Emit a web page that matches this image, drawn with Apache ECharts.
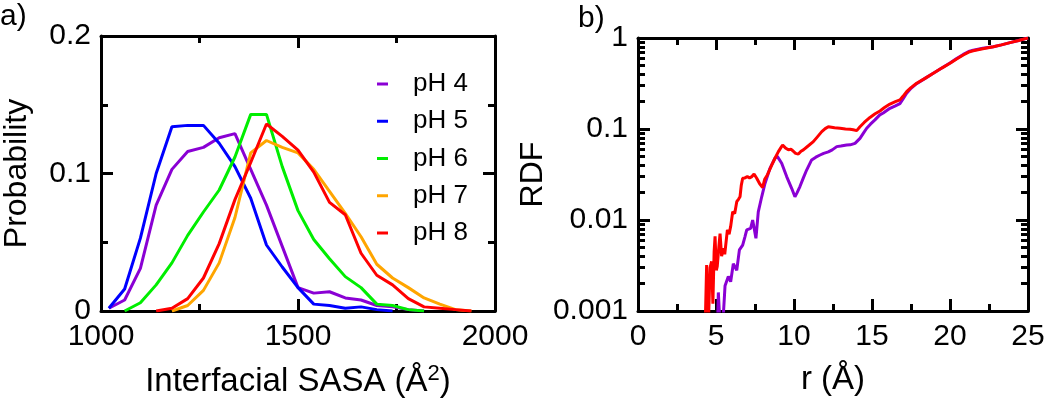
<!DOCTYPE html>
<html>
<head>
<meta charset="utf-8">
<script src="https://cdn.jsdelivr.net/npm/echarts@6/dist/echarts.min.js"></script>
<style>
html,body{margin:0;padding:0;background:#fff;}
#chart{width:1050px;height:404px;}
</style>
</head>
<body>
<div id="chart"></div>
<script>
// ---------- Panel a) : probability of interfacial SASA ----------
const sasaBins = [1020,1060,1100,1140,1180,1220,1260,1300,1340,1380,1420,1460,1500,1540,1580,1620,1660,1700,1740,1780,1820,1860,1900,1940];
const probPH4 = [0.002,0.008,0.031,0.077,0.103,0.116,0.119,0.126,0.129,0.103,0.077,0.047,0.017,0.013,0.014,0.0095,0.008,0.004,0.003,0.001,0.000,null,null,null];
const probPH5 = [0.002,0.016,0.053,0.100,0.134,0.135,0.135,0.122,0.105,0.082,0.048,0.032,0.017,0.005,0.004,0.002,0.003,0.001,0.000,null,null,null,null,null];
const probPH6 = [null,0.000,0.006,0.019,0.035,0.055,0.072,0.088,0.112,0.143,0.143,0.105,0.073,0.052,0.038,0.025,0.017,0.005,0.004,0.001,0.000,null,null,null];
const probPH7 = [null,null,null,null,0.000,0.004,0.015,0.035,0.068,0.115,0.124,0.119,0.115,0.103,0.087,0.071,0.054,0.034,0.024,0.017,0.0095,0.005,0.001,0.000];
const probPH8 = [null,null,null,0.000,0.002,0.009,0.024,0.049,0.081,0.108,0.136,0.127,0.117,0.101,0.079,0.070,0.042,0.026,0.019,0.009,0.003,0.002,0.001,0.000];
const seriesNamesA = ['pH 4','pH 5','pH 6','pH 7','pH 8'];
const sasaTicks = [1000,1500,2000];
const probTicks = [0,0.1,0.2];

// ---------- Panel b) : RDF ----------
const rdfPurpleR = [5.08,5.15,5.30,5.47,5.58,5.79,5.94,6.11,6.33,6.50,6.71,6.85,6.97,7.22,7.35,7.56,7.71,7.93,8.14,8.46,8.78,8.93,9.21,9.53,9.85,10.06,10.2,10.38,10.6,10.81,11.13,11.4,11.67,11.9,12.2,12.45,12.74,13.0,13.38,13.6,13.91,14.23,14.45,14.66,14.9,15.19,15.5,15.72,16.15,16.5,16.79,17.0,17.22,17.5,17.86,18.4,18.93,19.5,20.0,20.4,20.85,21.2,21.49,22.1,22.78,23.3,23.85,24.4,24.9,25.0];
const rdfPurpleG = [0.0005,0.0016,0.0005,0.0009,0.0019,0.0024,0.0021,0.0033,0.0028,0.0047,0.0053,0.0065,0.0078,0.0081,0.010,0.0063,0.0123,0.018,0.0252,0.037,0.0477,0.050,0.042,0.030,0.0223,0.018,0.020,0.0233,0.029,0.0354,0.0457,0.049,0.0518,0.054,0.056,0.059,0.064,0.065,0.0667,0.067,0.0696,0.079,0.090,0.102,0.113,0.126,0.143,0.150,0.169,0.180,0.19,0.215,0.247,0.280,0.315,0.36,0.41,0.47,0.53,0.59,0.66,0.71,0.735,0.77,0.80,0.84,0.89,0.94,0.99,1.0];
const rdfRedR = [4.29,4.40,4.50,4.62,4.72,4.80,4.88,4.94,5.02,5.08,5.18,5.26,5.36,5.47,5.56,5.64,5.73,5.84,5.94,6.07,6.20,6.33,6.45,6.54,6.62,6.71,6.85,7.01,7.15,7.30,7.44,7.61,7.80,7.99,8.12,8.29,8.45,8.57,8.78,8.99,9.15,9.27,9.45,9.64,9.80,9.96,10.1,10.28,10.45,10.6,10.9,11.24,11.5,11.78,12.0,12.2,12.6,12.95,13.3,13.59,13.8,14.02,14.23,14.5,14.87,15.2,15.51,15.8,16.15,16.5,16.79,17.0,17.22,17.5,17.86,18.4,18.93,19.5,20.0,20.4,20.85,21.2,21.49,22.1,22.78,23.3,23.85,24.4,24.9,25.0];
const rdfRedG = [0.0005,0.0032,0.0006,0.0030,0.0035,0.0012,0.0045,0.0066,0.0028,0.0031,0.0050,0.0071,0.0040,0.0049,0.0042,0.0040,0.0078,0.0070,0.0085,0.0123,0.0118,0.0159,0.0170,0.018,0.024,0.0288,0.029,0.030,0.029,0.030,0.032,0.0288,0.025,0.0228,0.028,0.0313,0.036,0.040,0.0477,0.056,0.062,0.0667,0.062,0.059,0.060,0.057,0.054,0.053,0.057,0.059,0.065,0.0726,0.082,0.0935,0.101,0.106,0.103,0.102,0.100,0.0995,0.098,0.096,0.106,0.118,0.134,0.147,0.158,0.172,0.188,0.200,0.209,0.230,0.257,0.285,0.318,0.36,0.41,0.47,0.527,0.585,0.65,0.70,0.725,0.76,0.80,0.84,0.89,0.94,0.99,1.0];
const rTicks = [0,5,10,15,20,25];
const rdfTicks = [0.001,0.01,0.1,1];
const rdfMinorTicks = [0.002,0.003,0.004,0.005,0.006,0.007,0.008,0.009,0.02,0.03,0.04,0.05,0.06,0.07,0.08,0.09,0.2,0.3,0.4,0.5,0.6,0.7,0.8,0.9];

const colors = ['#8a00d4','#0000ff','#00ee00','#ffa500','#ff0000'];
const FONT = "'Liberation Sans', Arial, Helvetica, sans-serif";

const chart = echarts.init(document.getElementById('chart'), null, {renderer:'canvas'});

const frameLine = {show:true, onZero:false, lineStyle:{color:'#000', width:3}};
const majorTick = {show:true, inside:true, length:12, lineStyle:{color:'#000', width:3}};
const minorTk = {show:true, splitNumber:2, length:7, lineStyle:{color:'#000', width:3}};
const tickLabel = {color:'#000', fontSize:30, fontFamily:FONT};
const noSplit = {show:false};
const plainFmt = v => String(+(+v).toPrecision(4));

const xAxes = [
  {gridIndex:0, type:'value', position:'bottom', min:sasaTicks[0], max:sasaTicks[2], interval:500,
   axisLine:frameLine, axisTick:majorTick, minorTick:minorTk, splitLine:noSplit, minorSplitLine:noSplit,
   axisLabel:Object.assign({margin:11, formatter:plainFmt}, tickLabel),
   name:'Interfacial SASA (Å{sup|2})', nameLocation:'middle', nameGap:52,
   nameTextStyle:{color:'#000', fontSize:33, fontFamily:FONT, rich:{sup:{fontSize:22, fontFamily:FONT, color:'#000', verticalAlign:'top', padding:[0,0,16,0]}}}},
  {gridIndex:0, type:'value', position:'top', min:sasaTicks[0], max:sasaTicks[2], interval:500,
   axisLine:frameLine, axisTick:majorTick, minorTick:minorTk, splitLine:noSplit, minorSplitLine:noSplit, axisLabel:{show:false}},
  {gridIndex:1, type:'value', position:'bottom', min:rTicks[0], max:rTicks[5], interval:5,
   axisLine:frameLine, axisTick:majorTick, minorTick:minorTk, splitLine:noSplit, minorSplitLine:noSplit,
   axisLabel:Object.assign({margin:11, formatter:plainFmt}, tickLabel),
   name:'r (Å)', nameLocation:'middle', nameGap:52,
   nameTextStyle:{color:'#000', fontSize:33, fontFamily:FONT}},
  {gridIndex:1, type:'value', position:'top', min:rTicks[0], max:rTicks[5], interval:5,
   axisLine:frameLine, axisTick:majorTick, minorTick:minorTk, splitLine:noSplit, minorSplitLine:noSplit, axisLabel:{show:false}}
];

const minorLogTick = {show:true, inside:true, length:7, customValues:rdfMinorTicks, lineStyle:{color:'#000', width:3}};
const yAxes = [
  {gridIndex:0, type:'value', position:'left', min:probTicks[0], max:probTicks[2], interval:0.1,
   axisLine:frameLine, axisTick:majorTick, minorTick:minorTk, splitLine:noSplit, minorSplitLine:noSplit,
   axisLabel:Object.assign({margin:10, formatter:plainFmt}, tickLabel),
   name:'Probability', nameLocation:'middle', nameGap:68,
   nameTextStyle:{color:'#000', fontSize:32, fontFamily:FONT}},
  {gridIndex:0, type:'value', position:'right', min:probTicks[0], max:probTicks[2], interval:0.1,
   axisLine:frameLine, axisTick:majorTick, minorTick:minorTk, splitLine:noSplit, minorSplitLine:noSplit, axisLabel:{show:false}},
  {gridIndex:1, type:'log', logBase:10, position:'left', min:rdfTicks[0], max:rdfTicks[3],
   axisLine:frameLine, axisTick:majorTick, splitLine:noSplit,
   axisLabel:Object.assign({margin:10, formatter:plainFmt}, tickLabel),
   name:'RDF', nameLocation:'middle', nameGap:63,
   nameTextStyle:{color:'#000', fontSize:32, fontFamily:FONT}},
  {gridIndex:1, type:'log', logBase:10, position:'right', min:rdfTicks[0], max:rdfTicks[3],
   axisLine:frameLine, axisTick:majorTick, splitLine:noSplit, axisLabel:{show:false}},
  {gridIndex:1, type:'log', logBase:10, position:'left', min:rdfTicks[0], max:rdfTicks[3],
   axisLine:{show:false, onZero:false}, axisTick:minorLogTick, splitLine:noSplit, axisLabel:{show:false}},
  {gridIndex:1, type:'log', logBase:10, position:'right', min:rdfTicks[0], max:rdfTicks[3],
   axisLine:{show:false, onZero:false}, axisTick:minorLogTick, splitLine:noSplit, axisLabel:{show:false}}
];

const probArrays = [probPH4, probPH5, probPH6, probPH7, probPH8];
const series = probArrays.map((arr, i) => ({
  name: seriesNamesA[i], type:'line', xAxisIndex:0, yAxisIndex:0,
  data: sasaBins.map((x, k) => [x, arr[k]]),
  showSymbol:false, symbol:'none', connectNulls:false, clip:true,
  lineStyle:{color:colors[i], width:3}, itemStyle:{color:colors[i]}, z:3
}));
series.push({
  name:'RDF pH 4', type:'line', xAxisIndex:2, yAxisIndex:2,
  data: rdfPurpleR.map((r, k) => [r, rdfPurpleG[k]]),
  showSymbol:false, symbol:'none', clip:true,
  lineStyle:{color:colors[0], width:3}, itemStyle:{color:colors[0]}, z:3
});
series.push({
  name:'RDF pH 8', type:'line', xAxisIndex:2, yAxisIndex:2,
  data: rdfRedR.map((r, k) => [r, rdfRedG[k]]),
  showSymbol:false, symbol:'none', clip:true,
  lineStyle:{color:colors[4], width:3}, itemStyle:{color:colors[4]}, z:4
});

chart.setOption({
  animation:false,
  backgroundColor:'#fff',
  textStyle:{fontFamily:FONT},
  grid:[
    {left:101, right:555, top:36, bottom:93, containLabel:false},
    {left:638, right:22, top:38, bottom:93, containLabel:false}
  ],
  legend:{
    data:seriesNamesA, orient:'vertical', left:372, top:66,
    icon:'rect', itemWidth:11, itemHeight:3, itemGap:11.25,
    textStyle:{color:'#000', fontSize:26, lineHeight:26, fontFamily:FONT, padding:[0,0,0,20]},
    selectedMode:false
  },
  graphic:[
    {type:'text', left:0, top:2, style:{text:'a)', fontSize:30, fontFamily:FONT, fill:'#000'}},
    {type:'text', left:578, top:4, style:{text:'b)', fontSize:30, fontFamily:FONT, fill:'#000'}}
  ],
  xAxis:xAxes,
  yAxis:yAxes,
  series:series
});
</script>
</body>
</html>
